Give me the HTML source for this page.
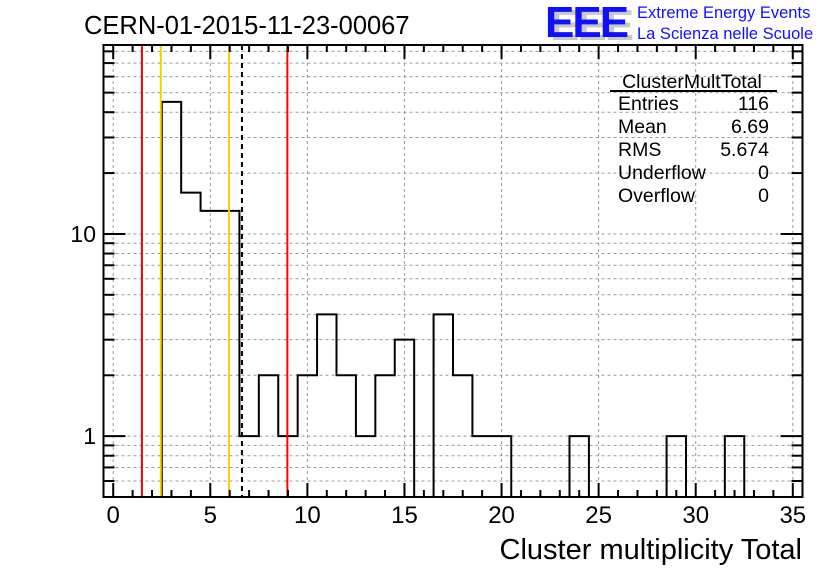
<!DOCTYPE html>
<html><head><meta charset="utf-8"><style>
body{margin:0;background:#fff;width:836px;height:572px;overflow:hidden;font-family:"Liberation Sans",sans-serif}
</style></head><body>
<svg width="836" height="572" xmlns="http://www.w3.org/2000/svg" font-family="Liberation Sans, sans-serif">
<text x="84" y="34" font-size="25.5">CERN-01-2015-11-23-00067</text>
<g>
<text x="550" y="40" font-size="44" font-weight="bold" fill="#c8c8c8" letter-spacing="-2">EEE</text>
<text x="545" y="37" font-size="44" font-weight="bold" fill="#1010ff" letter-spacing="-2">EEE</text>
<text x="637" y="18" font-size="16.5" fill="#1010ff">Extreme Energy Events</text>
<text x="637" y="39" font-size="16.5" fill="#1010ff">La Scienza nelle Scuole</text>
</g>
<g id="grid"></g>
<g id="marks"></g>
<g id="axes"></g>
<g font-size="19.5">
<text x="692" y="88" text-anchor="middle">ClusterMultTotal</text>
<line x1="610" y1="91" x2="777" y2="91" stroke="#000" stroke-width="2"/>
<text x="618" y="110">Entries</text><text x="769" y="110" text-anchor="end">116</text>
<text x="618" y="133">Mean</text><text x="769" y="133" text-anchor="end">6.69</text>
<text x="618" y="156">RMS</text><text x="769" y="156" text-anchor="end">5.674</text>
<text x="618" y="179">Underflow</text><text x="769" y="179" text-anchor="end">0</text>
<text x="618" y="202">Overflow</text><text x="769" y="202" text-anchor="end">0</text>
</g>
<text x="802" y="559" font-size="29" text-anchor="end">Cluster multiplicity Total</text>
</svg>
<script>
const binCenters=[3,4,5,6,7,8,9,10,11,12,13,14,15,16,17,18,19,20,21,22,23,24,25,26,27,28,29,30,31,32];
const counts=[45,16,13,13,1,2,1,2,4,2,1,2,3,0,4,2,1,1,0,0,0,1,0,0,0,0,1,0,0,1];
const xTicks=[0,5,10,15,20,25,30,35];
const yTicks=[1,10];
const redCuts=[1.48,8.97];
const orangeCuts=[2.45,5.96];
const meanLine=[6.63];
const NS="http://www.w3.org/2000/svg";
const L=103.5,R=802.5,T=45,B=497,xmin=-0.5,xmax=35.5,ymin=0.5,ymax=86;
const X=v=>L+(v-xmin)/(xmax-xmin)*(R-L);
const Y=v=>B-(Math.log10(v)-Math.log10(ymin))/(Math.log10(ymax)-Math.log10(ymin))*(B-T);
function el(p,t,a){const e=document.createElementNS(NS,t);for(const k in a)e.setAttribute(k,a[k]);p.appendChild(e);return e;}
const grid=document.getElementById('grid'),marks=document.getElementById('marks'),axes=document.getElementById('axes');
xTicks.forEach(t=>{const g=el(grid,'line',{x1:X(t),x2:X(t),y1:T,y2:B,stroke:'#999','stroke-dasharray':'3,3','stroke-width':1});

});
for(let d=0.1;d<=10;d*=10){for(let m=1;m<10;m++){const v=m*d;if(v<ymin||v>ymax)continue;
const g=el(grid,'line',{x1:L,x2:R,y1:Y(v),y2:Y(v),stroke:'#999','stroke-dasharray':'3,3','stroke-width':1});


const k1=el(axes,'line',{x1:L,x2:L+(m===1?22:11),y1:Y(v),y2:Y(v),stroke:'#000','stroke-width':2});


const k2=el(axes,'line',{x1:R,x2:R-(m===1?22:11),y1:Y(v),y2:Y(v),stroke:'#000','stroke-width':2});

}}
let d='M'+X(binCenters[0]-0.5)+','+B;
binCenters.forEach((c,i)=>{const y=counts[i]>0?Y(counts[i]):B;d+=' L'+X(c-0.5)+','+y+' L'+X(c+0.5)+','+y;});
d+=' L'+X(binCenters[binCenters.length-1]+0.5)+','+B;
const h=el(marks,'path',{d:d,fill:'none',stroke:'#000','stroke-width':2});


redCuts.forEach(v=>{const l=el(marks,'line',{x1:X(v),x2:X(v),y1:T,y2:B,stroke:'#f00','stroke-width':2});

});
orangeCuts.forEach(v=>{const l=el(marks,'line',{x1:X(v),x2:X(v),y1:T,y2:B,stroke:'#fc0','stroke-width':2});

});
meanLine.forEach(v=>{const l=el(marks,'line',{x1:X(v),x2:X(v),y1:T,y2:B,stroke:'#000','stroke-width':2,'stroke-dasharray':'5,4'});

});
const f=el(axes,'rect',{x:L,y:T,width:R-L,height:B-T,fill:'none',stroke:'#000','stroke-width':2});


for(let v=0;v<=35;v++){const big=v%5===0;
const a=el(axes,'line',{x1:X(v),x2:X(v),y1:B,y2:B-(big?14:7),stroke:'#000','stroke-width':2});


const b=el(axes,'line',{x1:X(v),x2:X(v),y1:T,y2:T+(big?14:7),stroke:'#000','stroke-width':2});

}
xTicks.forEach(t=>{const tx=el(axes,'text',{x:X(t),y:523,'font-size':24,'text-anchor':'middle'});tx.textContent=t;

});
yTicks.forEach(t=>{const tx=el(axes,'text',{x:96,y:Y(t)+8,'font-size':23,'text-anchor':'end'});tx.textContent=t;

});
</script>
</body></html>
